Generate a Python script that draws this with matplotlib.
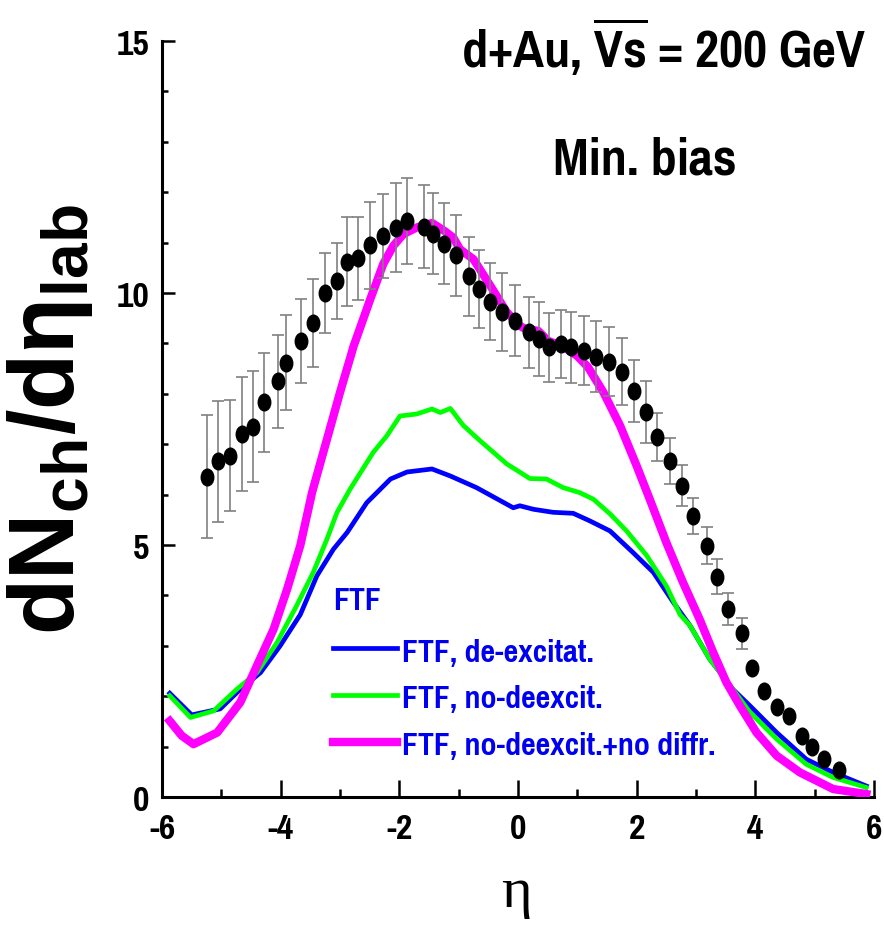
"""
dN_ch/deta in d+Au at sqrt(s)=200 GeV, min. bias: data vs FTF variants.
Output: out.png
"""
import matplotlib
matplotlib.use("Agg")
import matplotlib.pyplot as plt
from matplotlib import font_manager
from matplotlib.path import Path
from matplotlib.transforms import Affine2D

_names = {f.name for f in font_manager.fontManager.ttflist}
NARROW = next((n for n in ("Pragati Narrow", "Liberation Sans Narrow", "Roboto Condensed",
                           "PT Sans Narrow") if n in _names), "Liberation Sans")

plt.rcParams["axes.unicode_minus"] = False
plt.rcParams["mathtext.fontset"] = "custom"
plt.rcParams["mathtext.rm"] = f"{NARROW}:bold"
plt.rcParams["mathtext.bf"] = "Liberation Sans:bold"
plt.rcParams["mathtext.it"] = "Liberation Sans:bold"

# --- data points (black dots) ---
data_eta = [-5.25, -5.06, -4.85, -4.66, -4.46, -4.28, -4.05, -3.91, -3.66, -3.46,
            -3.26, -3.05, -2.88, -2.69, -2.49, -2.28, -2.06, -1.87, -1.59, -1.44,
            -1.25, -1.05, -0.82, -0.65, -0.48, -0.27, -0.05,
            0.19, 0.35, 0.53, 0.72, 0.90, 1.12, 1.32, 1.53, 1.75, 1.95,
            2.15, 2.34, 2.56, 2.77, 2.95, 3.18, 3.35, 3.54, 3.77, 3.95,
            4.14, 4.36, 4.56, 4.78, 4.95, 5.15, 5.41]
data_val = [6.36, 6.66, 6.77, 7.20, 7.35, 7.83, 8.25, 8.62, 9.05, 9.40,
            10.00, 10.24, 10.62, 10.69, 10.95, 11.13, 11.30, 11.43, 11.32, 11.18,
            10.98, 10.75, 10.33, 10.08, 9.83, 9.62, 9.45,
            9.22, 9.09, 8.92, 8.99, 8.92, 8.86, 8.74, 8.64, 8.44, 8.06,
            7.64, 7.14, 6.67, 6.18, 5.58, 4.99, 4.37, 3.73, 3.25, 2.57,
            2.10, 1.79, 1.61, 1.22, 1.00, 0.75, 0.54]
data_err = [1.22, 1.20, 1.10, 1.13, 1.10, 0.98, 0.92, 0.95, 0.83, 0.87,
            0.79, 0.75, 0.88, 0.82, 0.86, 0.83, 0.89, 0.85, 0.83, 0.81,
            0.80, 0.80, 0.78, 0.78, 0.76, 0.77, 0.70,
            0.70, 0.73, 0.68, 0.68, 0.71, 0.68, 0.70, 0.68, 0.67, 0.62,
            0.62, 0.48, 0.46, 0.40, 0.36, 0.36, 0.35, 0.31, 0.31, 0.0,
            0.0, 0.0, 0.0, 0.0, 0.0, 0.0, 0.0]

# --- FTF, de-excitat. (blue) ---
blue_eta = [-5.87, -5.50, -5.02, -4.68, -4.34, -4.01, -3.67, -3.39, -3.11, -2.88,
            -2.55, -2.15, -1.87, -1.45, -1.14, -0.70, -0.08, 0.03, 0.26, 0.59,
            0.93, 1.21, 1.55, 1.94, 2.28, 2.62, 2.90, 3.23, 3.62, 3.91,
            4.36, 4.86, 5.31, 5.87]
blue_val = [2.06, 1.63, 1.75, 2.14, 2.47, 3.00, 3.62, 4.39, 4.92, 5.25,
            5.84, 6.31, 6.45, 6.51, 6.37, 6.14, 5.74, 5.78, 5.71, 5.65,
            5.63, 5.48, 5.28, 4.85, 4.46, 3.86, 3.40, 2.74, 2.14, 1.81,
            1.28, 0.75, 0.49, 0.22]

# --- FTF, no-deexcit. (green) ---
green_eta = [-5.87, -5.52, -5.13, -4.74, -4.40, -4.06, -3.73, -3.45, -3.22, -3.05,
             -2.83, -2.44, -2.21, -1.99, -1.71, -1.45, -1.31, -1.14, -0.92, -0.64,
             -0.19, 0.20, 0.48, 0.76, 1.04, 1.27, 1.55, 1.83, 2.17, 2.50,
             2.73, 2.90, 3.23, 3.62, 3.91, 4.36, 4.86, 5.31, 5.87]
green_val = [2.01, 1.58, 1.71, 2.14, 2.47, 3.07, 3.80, 4.46, 5.12, 5.65,
             6.11, 6.84, 7.17, 7.56, 7.60, 7.70, 7.63, 7.71, 7.37, 7.07,
             6.61, 6.32, 6.31, 6.14, 6.04, 5.91, 5.62, 5.28, 4.79, 4.19,
             3.62, 3.40, 2.74, 2.14, 1.68, 1.15, 0.65, 0.39, 0.19]

# --- FTF, no-deexcit.+no diffr. (magenta) ---
mag_eta = [-5.87, -5.67, -5.47, -5.07, -4.68, -4.40, -4.12, -3.89, -3.67, -3.47,
           -3.22, -3.00, -2.77, -2.49, -2.27, -2.10, -1.93, -1.71, -1.45, -1.25,
           -1.09, -0.98, -0.75, -0.47, -0.19, 0.03, 0.12, 0.34, 0.51, 0.74,
           0.99, 1.18, 1.44, 1.72, 2.00, 2.22, 2.50, 2.78, 3.06, 3.29,
           3.51, 3.74, 4.02, 4.36, 4.75, 5.31, 5.87]
mag_val = [1.51, 1.22, 1.05, 1.28, 1.88, 2.61, 3.33, 4.13, 4.99, 6.05,
           7.10, 8.03, 8.95, 9.88, 10.58, 10.94, 11.17, 11.30, 11.39, 11.24,
           11.10, 10.87, 10.67, 10.15, 9.62, 9.35, 9.29, 9.25, 9.05, 8.95,
           8.76, 8.53, 8.03, 7.37, 6.57, 5.91, 5.05, 4.26, 3.53, 2.87,
           2.28, 1.81, 1.28, 0.82, 0.49, 0.16, 0.06]

LEGEND_TITLE = "FTF"
LABELS = ["FTF, de-excitat.", "FTF, no-deexcit.", "FTF, no-deexcit.+no diffr."]
LEGEND_BLUE = "#0000f0"

# slightly tall elliptical dot, as in the original
dot = Path.unit_circle().transformed(Affine2D().scale(0.75, 1.0))

fig = plt.figure(figsize=(8.84, 9.28), dpi=100)
ax = fig.add_axes([0.1833, 0.140, 0.8054, 0.8147])

l1, = ax.plot(blue_eta, blue_val, color="#0000ff", lw=3.4, zorder=3)
l2, = ax.plot(green_eta, green_val, color="#00ff00", lw=3.4, zorder=3)
l3, = ax.plot(mag_eta, mag_val, color="#ff00ff", lw=6.0, zorder=4)

_, caps, bars = ax.errorbar(data_eta, data_val, yerr=data_err, fmt="none",
                            ecolor="#808080", elinewidth=1.2, capsize=4,
                            capthick=1.2, zorder=5)
for c in caps:
    c.set_color("#303030")
ax.plot(data_eta, data_val, ls="none", marker=dot, ms=12, color="black", zorder=6)

ax.set_xlim(-6, 6)
ax.set_ylim(0, 15)
ax.set_xticks([-6, -4, -2, 0, 2, 4, 6])
ax.set_xticks(range(-6, 7), minor=True)
ax.set_yticks([0, 5, 10, 15])
ax.set_yticks(range(0, 16), minor=True)

for s in ("top", "right"):
    ax.spines[s].set_visible(False)
for s in ("left", "bottom"):
    ax.spines[s].set_linewidth(2.2)

ax.tick_params(axis="x", which="major", direction="in", length=12, width=1.8, pad=11)
ax.tick_params(axis="x", which="minor", direction="in", length=6, width=1.8)
ax.tick_params(axis="y", which="major", direction="in", length=9, width=1.8, pad=9)
ax.tick_params(axis="y", which="minor", direction="in", length=4, width=1.8)
for lab in ax.get_xticklabels() + ax.get_yticklabels():
    lab.set_fontfamily(NARROW)
    lab.set_fontweight("bold")
    lab.set_fontsize(28)

fig.text(516 / 884, 1 - 893 / 928, "η", fontsize=42, family="Liberation Serif",
         ha="center", va="center")
fig.text(50 / 884, 1 - 420 / 928, r"$\mathbf{dN_{ch}/d\eta_{lab}}$", fontsize=66,
         rotation=90, ha="center", va="center")

fig.text(866 / 884, 1 - 47 / 928, r"d+Au, $\overline{\mathrm{Vs}}$ = 200 GeV",
         fontsize=41, family=NARROW, fontweight="bold", ha="right", va="center")
fig.text(645 / 884, 1 - 160 / 928, "Min. bias", fontsize=41, family=NARROW,
         fontweight="bold", ha="center", va="center")

leg = ax.legend([l1, l2, l3], LABELS, title=LEGEND_TITLE, loc="upper left",
                bbox_to_anchor=(333 / 884, 1 - 587 / 928), bbox_transform=fig.transFigure,
                frameon=False, borderpad=0, borderaxespad=0, handlelength=1.85,
                handletextpad=0.15, labelspacing=0.5, alignment="left",
                prop={"family": NARROW, "weight": "bold", "size": 25},
                title_fontproperties={"family": NARROW, "weight": "bold", "size": 25})
leg._legend_box.sep = 16
for t in leg.get_texts():
    t.set_color(LEGEND_BLUE)
leg.get_title().set_color(LEGEND_BLUE)

fig.savefig("out.png", dpi=100)
